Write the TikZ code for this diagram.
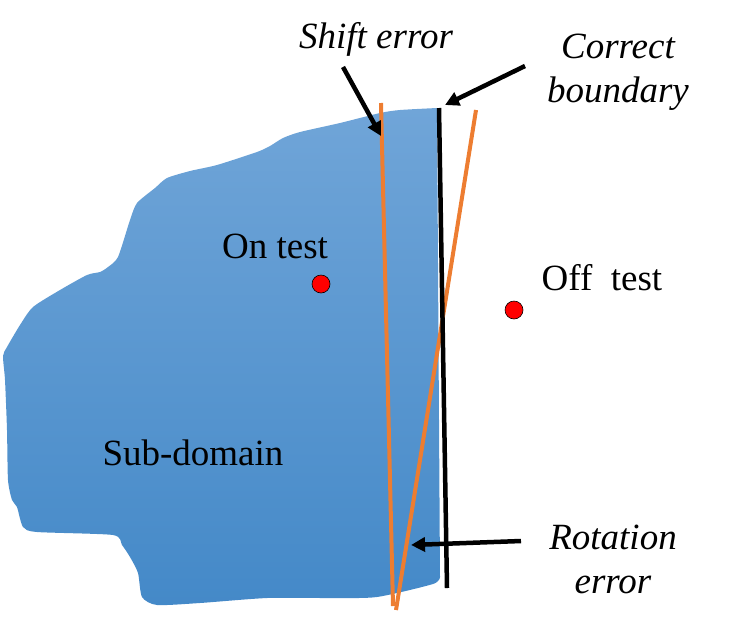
\documentclass[tikz,border=0pt]{standalone}
\usepackage{fontspec}
\setmainfont{Liberation Serif}
\usetikzlibrary{arrows.meta}
\definecolor{blueTop}{RGB}{112,165,216}
\definecolor{blueBot}{RGB}{68,137,200}
\definecolor{orangeL}{RGB}{237,125,49}
\tikzset{
  lbl/.style={inner sep=0pt, anchor=base, font=\fontsize{37}{44}\selectfont, align=center},
  ilbl/.style={lbl, font=\fontsize{37}{44}\selectfont\itshape},
  errline/.style={draw=orangeL, line width=4pt},
  bound/.style={draw=black, line width=4.5pt},
  pointer/.style={draw=black, line width=4.5pt, -{Triangle[length=14pt,width=14pt]}},
  testpt/.style={circle, fill=red, draw=black, line width=0.6pt, minimum size=18pt, inner sep=0pt}
}
\begin{document}
\begin{tikzpicture}[x=1pt,y=-1pt]
\useasboundingbox (0,0) rectangle (730,630);
% sub-domain
\shade[top color=blueTop, bottom color=blueBot]
  plot[smooth, tension=0.4] coordinates {(437,108) (400,110) (380,113) (340,123) (300,132) (283,138) (270,146) (257,152) (217,165) (190,171) (167,178) (155,188) (137,203) (130,220) (118,257) (108,267) (100,272) (87,275) (60,290) (33,307) (20,325) (7,347) (3,356) (5,380) (7,430) (8,480) (12,500) (17,507) (23,527) (37,532) (113,535) (122,545) (130,557) (138,573) (142,597) (157,605) (200,603) (267,598) (330,598) (377,597) (433,584) (440,577)}
  -- cycle;
% coordinates
\coordinate (cbTop) at (439,108);
\coordinate (cbBot) at (447,588);
\coordinate (sTop) at (381,103);
\coordinate (sBot) at (393,606);
\coordinate (rTop) at (476,110);
\coordinate (rBot) at (396,610);
\coordinate (shiftFrom) at (343,67);
\coordinate (shiftTo) at (381,136);
\coordinate (cbFrom) at (525,66);
\coordinate (cbTo) at (445,105);
\coordinate (rotFrom) at (521,541);
\coordinate (rotTo) at (411,545);
% lines
\draw[errline] (sTop) -- (sBot);
\draw[errline] (rTop) -- (rBot);
\draw[bound] (cbTop) -- (cbBot);
% arrows
\draw[pointer] (shiftFrom) -- (shiftTo);
\draw[pointer] (cbFrom) -- (cbTo);
\draw[pointer] (rotFrom) -- (rotTo);
% test points
\node[testpt] (onpt) at (321,284) {};
\node[testpt] (offpt) at (514,310) {};
% labels
\node[ilbl] (shiftlbl) at (376,48) {Shift error};
\node[ilbl] (cblbl) at (618,102) {Correct\\boundary};
\node[ilbl] (rotlbl) at (613,593) {Rotation\\error};
\node[lbl] (ontest) at (275,258) {On test};
\node[lbl] (offtest) at (602,290) {Off\ \ test};
\node[lbl] (subdom) at (193,465) {Sub-domain};
\end{tikzpicture}
\end{document}
